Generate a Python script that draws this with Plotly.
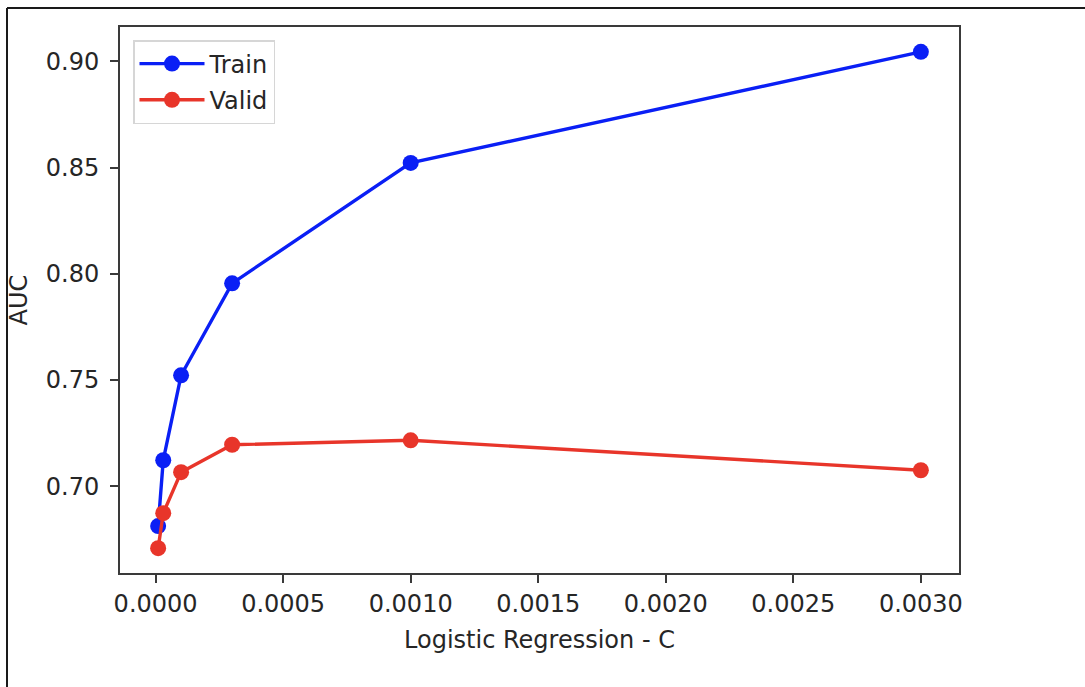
import plotly.graph_objects as go

c_values = [0.00001, 0.00003, 0.0001, 0.0003, 0.001, 0.003]
train_auc = [0.6812, 0.7122, 0.7522, 0.7955, 0.8522, 0.9045]
valid_auc = [0.6708, 0.6873, 0.7066, 0.7195, 0.7216, 0.7075]

W, H = 1085, 687
ml, mr, mt, mb = 120, 126, 27, 114

def margin_range(vals, frac=0.05):
    lo, hi = min(vals), max(vals)
    d = (hi - lo) * frac
    return [lo - d, hi + d]

xr = margin_range(c_values)
yr = margin_range(train_auc + valid_auc)

FONT = "DejaVu Sans"
FS = 24
TXT = "#262626"
BLUE = "#0a1ff5"
RED = "#e8352a"

fig = go.Figure()
fig.add_trace(go.Scatter(x=c_values, y=train_auc, mode="lines+markers", name="Train", legendgroup="a",
                         line=dict(color=BLUE, width=3.4), marker=dict(color=BLUE, size=16)))
fig.add_trace(go.Scatter(x=c_values, y=valid_auc, mode="lines+markers", name="Valid", legendgroup="b",
                         line=dict(color=RED, width=3.4), marker=dict(color=RED, size=16)))

axis_common = dict(showgrid=False, zeroline=False, showline=True, mirror=True,
                   linecolor="#3a3a3a", linewidth=2, ticks="outside", ticklen=8,
                   tickwidth=2, tickcolor="#3a3a3a",
                   tickfont=dict(family=FONT, size=FS, color=TXT))

fig.update_xaxes(range=xr, dtick=0.0005, tick0=0, tickformat=".4f",
                 title=dict(text="Logistic Regression - C", font=dict(family=FONT, size=FS, color=TXT), standoff=14),
                 **axis_common)
fig.update_yaxes(range=yr, dtick=0.05, tick0=0, tickformat=".2f", ticklabelstandoff=6,
                 title=dict(text="AUC", font=dict(family=FONT, size=FS, color=TXT), standoff=11),
                 **axis_common)

pw = W - ml - mr
ph = H - mt - mb
fx = lambda px: (px - ml) / pw
fy = lambda py: 1 - (py - mt) / ph

fig.add_shape(type="line", xref="paper", yref="paper", x0=fx(7), x1=fx(W + 5), y0=fy(8), y1=fy(8),
              line=dict(color="#1a1a1a", width=2))
fig.add_shape(type="line", xref="paper", yref="paper", x0=fx(7), x1=fx(7), y0=fy(8), y1=fy(H + 5),
              line=dict(color="#1a1a1a", width=2))

fig.update_layout(
    width=W, height=H, autosize=False,
    margin=dict(l=ml, r=mr, t=mt, b=mb, pad=0),
    paper_bgcolor="white", plot_bgcolor="white",
    font=dict(family=FONT, size=FS, color=TXT),
    showlegend=True,
    legend=dict(x=fx(133), y=fy(40), xanchor="left", yanchor="top",
                bgcolor="rgba(255,255,255,0.8)", bordercolor="#d6d6d6", borderwidth=1.5,
                font=dict(family=FONT, size=FS, color=TXT), itemwidth=65,
                traceorder="grouped", tracegroupgap=2),
)

fig.write_html("out.html")
